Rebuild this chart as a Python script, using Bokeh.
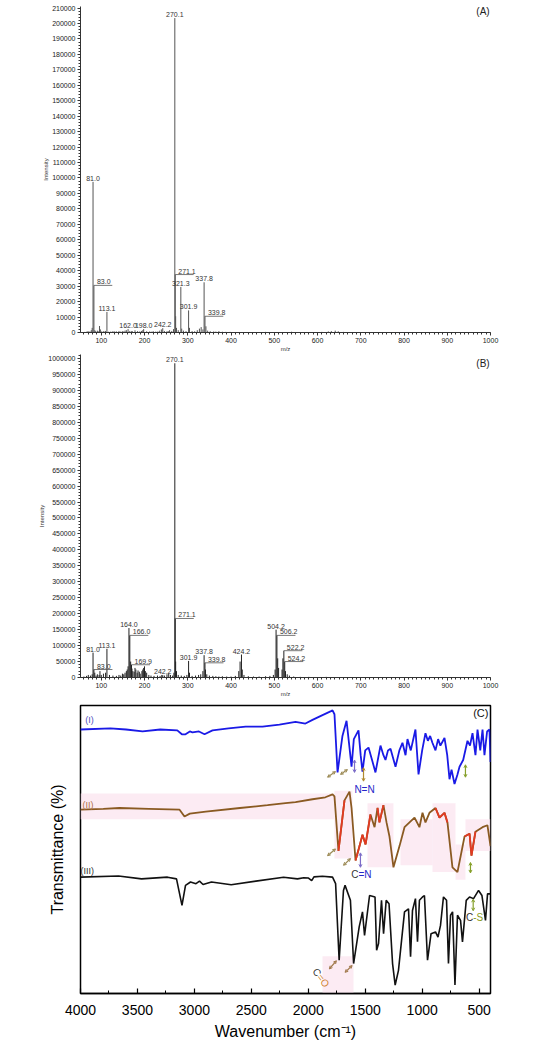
import math
from bokeh.plotting import figure
from bokeh.models import (ColumnDataSource, LabelSet, Label, SingleIntervalTicker,
                          BasicTickFormatter, Range1d, Arrow, OpenHead, FixedTicker)
from bokeh.layouts import column
from bokeh.core.properties import value
from bokeh.embed import file_html
from bokeh.resources import INLINE

FONT = "Liberation Sans"
W = 534

# ---------------- Panel A (mass spectrum) ----------------
a_pk_mz = [81.0, 83.0, 113.1, 162.0, 198.0, 242.2, 270.1, 271.1, 284.0, 301.9, 337.8, 339.8]
a_pk_int = [97500, 30500, 13300, 2200, 2200, 2800, 203500, 37500, 29500, 14300, 32500, 10500]
a_pk_text = ["81.0", "83.0", "113.1", "162.0", "198.0", "242.2", "270.1", "271.1", "321.3", "301.9", "337.8", "339.8"]
a_pk_leader = [False, True, False, False, False, False, False, True, False, False, False, True]
a_minor_mz = [62, 66, 69, 71, 74, 77, 79, 85, 87, 91, 93, 96, 98, 101, 105, 108, 110, 117, 122, 127,
              131, 135, 141, 145, 149, 152, 155, 158, 166, 170, 172, 178, 184, 189, 193, 196, 205, 212, 216, 220,
              226, 231, 235, 239, 246, 252, 255, 258, 263, 267, 272, 274, 278, 286, 290, 296, 304, 310, 316, 322,
              327, 331, 335, 342, 346, 352, 360, 365, 372, 380, 388, 398, 412, 430, 455, 480, 510, 540, 575, 610,
              625, 632, 641, 648, 660, 690, 730, 770, 810, 850, 890, 930, 970, 995]
a_minor_int = [400, 500, 800, 600, 700, 1500, 3000, 1500, 900, 1200, 800, 4200, 2000, 700, 800, 600, 1000, 500, 600, 900,
               700, 700, 1000, 600, 800, 700, 1200, 1500, 1000, 800, 800, 1400, 900, 700, 1000, 1500, 800, 700, 500, 900,
               600, 700, 1200, 2000, 1000, 800, 900, 1500, 1000, 2200, 10500, 3000, 1500, 2500, 1200, 900, 3000, 900, 800, 1500,
               2500, 3500, 2000, 4000, 1200, 800, 700, 600, 900, 500, 400, 400, 300, 300, 300, 400, 300, 500, 300, 400,
               700, 900, 1200, 800, 400, 300, 300, 300, 300, 300, 300, 300, 300, 300]

# ---------------- Panel B (mass spectrum) ----------------
b_pk_mz = [81.0, 83.0, 113.1, 164.0, 166.0, 169.9, 242.2, 270.1, 271.1, 301.9, 337.8, 339.8, 424.2, 504.2, 506.2, 522.2, 524.2]
b_pk_int = [78000, 25000, 90000, 155000, 132000, 40000, 7000, 985000, 185000, 52000, 70000, 46000, 72000, 150000, 132000, 84000, 50000]
b_pk_text = ["81.0", "83.0", "113.1", "164.0", "166.0", "169.9", "242.2", "270.1", "271.1", "301.9", "337.8", "339.8",
             "424.2", "504.2", "506.2", "522.2", "524.2"]
b_pk_leader = [False, True, False, False, True, True, False, False, True, False, False, True, False, False, True, True, True]
b_minor_mz = [60, 66, 70, 75, 79, 85, 88, 91, 95, 97, 100, 105, 110, 119, 127, 135, 141, 145, 149, 152,
              155, 158, 160, 162, 168, 171, 173, 176, 178, 180, 183, 185, 188, 190, 194, 196, 198, 200, 202, 205,
              210, 215, 222, 230, 236, 240, 246, 252, 256, 260, 265, 268, 272, 274, 278, 285, 292, 298, 304, 310,
              318, 325, 330, 335, 341, 344, 350, 358, 365, 372, 380, 390, 400, 410, 418, 421, 426, 430, 440, 452,
              465, 480, 490, 498, 502, 508, 510, 518, 520, 526, 530, 535, 545, 560, 580, 600, 620, 640, 660, 700,
              750, 800, 850, 900, 950, 990]
b_minor_int = [3000, 5000, 8000, 6000, 10000, 15000, 6000, 10000, 8000, 20000, 8000, 12000, 15000, 8000, 6000, 5000, 8000, 6000, 12000, 10000,
               15000, 20000, 25000, 35000, 50000, 28000, 20000, 18000, 30000, 25000, 15000, 22000, 18000, 12000, 20000, 25000, 30000, 35000, 20000, 15000,
               8000, 6000, 5000, 6000, 5000, 8000, 6000, 10000, 12000, 8000, 6000, 15000, 50000, 20000, 8000, 6000, 5000, 8000, 15000, 5000,
               6000, 8000, 10000, 20000, 25000, 10000, 6000, 5000, 4000, 3000, 4000, 3000, 3000, 5000, 20000, 50000, 25000, 8000, 4000, 3000,
               3000, 4000, 5000, 8000, 25000, 60000, 30000, 25000, 60000, 20000, 10000, 6000, 3000, 2000, 2000, 1500, 2000, 1500, 1500, 1500,
               1500, 1500, 1500, 1500, 1500, 1500]

# ---------------- Panel C (FT-IR) ----------------
c_wn_I = [4000, 3737, 3600, 3455, 3300, 3150, 3110, 3078, 3040, 3017, 2960, 2911, 2841, 2700, 2550, 2402, 2253, 2112, 2025, 1963,
          1875, 1800, 1787, 1770, 1743, 1700, 1664, 1640, 1620, 1600, 1559, 1540, 1524, 1500, 1471, 1440, 1410, 1366, 1340, 1322,
          1300, 1278, 1234, 1200, 1173, 1146, 1129, 1100, 1059, 1032, 1000, 971, 950, 930, 910, 883, 860, 840, 804, 780,
          760, 742, 716, 690, 672, 640, 602, 580, 558, 532, 514, 490, 470, 453, 430, 409, 400]
c_T_I = [91.5, 91.9, 91.5, 90.8, 91.5, 91.2, 89.8, 89.8, 90.8, 90.5, 90.8, 89.8, 91.2, 91.9, 92.5, 92.5, 93.2, 94.2, 93.6, 94.9,
         96.6, 98.0, 98.3, 96.9, 76.3, 89.2, 94.6, 85.8, 78.3, 88.1, 91.2, 82.4, 76.6, 84.1, 85.1, 80.7, 76.3, 85.8, 82.4, 80.7,
         84.1, 84.7, 78.3, 84.1, 86.8, 82.4, 88.1, 84.1, 91.5, 75.6, 84.1, 90.2, 87.5, 89.2, 86.8, 84.1, 88.1, 85.8, 88.5, 82.4,
         73.9, 77.3, 72.2, 75.6, 78.3, 80.7, 87.5, 85.8, 90.2, 82.4, 91.5, 84.1, 91.5, 82.4, 90.8, 91.5, 80.0]
c_wn_II = [4000, 3800, 3658, 3400, 3130, 3087, 3040, 2900, 2600, 2358, 2200, 2112, 1963, 1850, 1787, 1770, 1735, 1700, 1682, 1638,
           1620, 1585, 1550, 1524, 1497, 1454, 1418, 1392, 1375, 1340, 1313, 1287, 1252, 1199, 1155, 1111, 1067, 1024, 997, 971,
           936, 883, 848, 804, 778, 734, 690, 628, 584, 567, 532, 470, 427, 400]
c_T_II = [63.1, 63.4, 63.7, 63.4, 63.1, 60.7, 61.7, 62.4, 63.7, 64.7, 65.4, 65.8, 66.8, 67.5, 68.5, 67.8, 48.5, 60.3, 66.4, 69.5,
          63.7, 45.1, 50.2, 54.2, 50.8, 61.4, 56.9, 63.7, 58.6, 64.7, 58.6, 53.6, 42.7, 50.2, 56.9, 58.6, 60.3, 56.9, 62.0, 58.6,
          62.0, 63.7, 60.3, 62.0, 58.6, 42.7, 41.0, 53.6, 54.6, 46.8, 55.3, 56.9, 57.6, 50.2]
c_wn_III = [4000, 3666, 3464, 3236, 3157, 3109, 3078, 3034, 2986, 2955, 2924, 2850, 2677, 2460, 2217, 2095, 2040, 1998, 1970, 1950,
            1876, 1787, 1760, 1729, 1691, 1677, 1630, 1602, 1553, 1524, 1506, 1462, 1414, 1400, 1383, 1357, 1339, 1316, 1291, 1260,
            1237, 1208, 1155, 1120, 1102, 1085, 1059, 1041, 1024, 997, 980, 953, 922, 883, 861, 839, 813, 786, 769, 751,
            733, 712, 690, 663, 646, 613, 584, 549, 505, 475, 444, 426, 400]
c_T_III = [39.2, 39.6, 38.6, 39.2, 38.6, 29.2, 36.3, 37.5, 36.9, 37.8, 36.6, 37.5, 36.5, 37.8, 39.2, 38.6, 39.0, 38.9, 38.0, 39.3,
           39.5, 39.2, 36.9, 9.8, 34.5, 36.3, 31.0, 8.6, 21.6, 26.9, 18.6, 32.7, 32.2, 13.3, 15.7, 31.0, 19.2, 31.0, 29.8, 8.6,
           1.0, 6.2, 26.9, 28.0, 11.0, 27.4, 31.6, 16.3, 31.0, 32.2, 32.7, 9.8, 19.2, 19.8, 18.0, 22.1, 32.2, 31.0, 8.6, 25.7,
           26.9, 1.0, 25.7, 23.9, 16.3, 31.0, 32.2, 31.6, 34.5, 32.7, 23.9, 33.3, 33.3]
# red-highlighted parts of trace (II): (high wn, low wn)
c_red_ranges = [(1760, 1640), (1600, 1440), (1400, 1330), (900, 770), (650, 520)]
# pink highlight boxes: left wn, right wn, bottom, top
c_hl_left = [4000, 1770, 1480, 1190, 909, 707, 620, 1875]
c_hl_right = [1770, 1612, 1252, 909, 707, 620, 400, 1603]
c_hl_bottom = [59.7, 45.8, 42.7, 43.4, 41.0, 38.3, 48.5, -2.0]
c_hl_top = [68.8, 69.8, 65.4, 59.7, 65.4, 50.8, 59.7, 11.2]
# double-headed marker arrows
c_arr_x0 = [1831, 1717, 1594, 1515, 620, 1831, 1691, 1542, 576, 1815, 1677, 552]
c_arr_y0 = [74.6, 75.6, 80.7, 78.0, 79.0, 46.8, 43.4, 47.8, 44.4, 6.7, 5.5, 31.4]
c_arr_x1 = [1761, 1656, 1594, 1515, 620, 1761, 1629, 1542, 576, 1753, 1615, 552]
c_arr_y1 = [76.6, 77.3, 76.3, 73.2, 74.6, 49.2, 45.8, 42.7, 40.7, 9.6, 7.9, 27.3]
c_arr_col = ["#9c8a55", "#9c8a55", "#7c6cc8", "#b08a30", "#86a02a", "#9c8a55", "#9c8a55", "#7c6cc8", "#86a02a",
             "#a0784a", "#a0784a", "#86a02a"]

# ---------------- layout constants ----------------
A_H, A_L, A_R, A_T, A_B = 354, 36, 7, 6, 20
B_H, B_L, B_R, B_T, B_B = 346, 40, 7, 0, 23
C_H, C_L, C_R, C_T, C_B = 345, 80, 44, 5, 52
MZ0, MZ1 = 52, 1000
A_YEND = 211000
B_YEND = 1012500


def ms_panel(height, bl, br, bt, bb, yend, yint, minor_mz, minor_int, pk_mz, pk_int, pk_text, pk_leader, stem_color):
    p = figure(width=W, height=height, x_range=Range1d(MZ0, MZ1), y_range=Range1d(0, yend),
               output_backend="svg", toolbar_location=None,
               min_border_left=bl, min_border_right=br, min_border_top=bt, min_border_bottom=bb)
    p.grid.visible = False
    p.outline_line_color = None
    p.xaxis.ticker = SingleIntervalTicker(interval=100, num_minor_ticks=10)
    p.yaxis.ticker = SingleIntervalTicker(interval=yint, num_minor_ticks=5)
    p.yaxis.formatter = BasicTickFormatter(use_scientific=False)
    for ax in p.axis:
        ax.axis_line_color = "#333333"
        ax.major_tick_line_color = "#333333"
        ax.minor_tick_line_color = "#333333"
        ax.major_tick_out = 3
        ax.major_tick_in = 0
        ax.minor_tick_out = 2
        ax.minor_tick_in = 0
        ax.major_label_standoff = 2
        ax.major_label_text_font = FONT
        ax.major_label_text_font_size = "7px"
        ax.major_label_text_color = "#222222"
        ax.axis_label_text_font = FONT
        ax.axis_label_text_font_size = "6px"
        ax.axis_label_text_font_style = "normal"
        ax.axis_label_text_color = "#333333"
        ax.axis_label_standoff = 0
    p.xaxis.axis_label = "m/z"
    p.yaxis.axis_label = "Intensity"
    mz = list(minor_mz) + list(pk_mz)
    it = list(minor_int) + list(pk_int)
    p.segment(x0=mz, y0=[0] * len(mz), x1=mz, y1=it, line_color=stem_color, line_width=1)

    mzpp = (MZ1 - MZ0) / (W - bl - br)
    cx = [m for m, l in zip(pk_mz, pk_leader) if not l]
    cy = [v for v, l in zip(pk_int, pk_leader) if not l]
    ct = [t for t, l in zip(pk_text, pk_leader) if not l]
    lx = [m for m, l in zip(pk_mz, pk_leader) if l]
    ly = [v for v, l in zip(pk_int, pk_leader) if l]
    lt = [t for t, l in zip(pk_text, pk_leader) if l]
    p.add_layout(LabelSet(x="x", y="y", text="t", source=ColumnDataSource(dict(x=cx, y=cy, t=ct)),
                          text_align="center", text_baseline="bottom", y_offset=1,
                          text_font=value(FONT), text_font_size="7px", text_color="#333333"))
    p.add_layout(LabelSet(x="x", y="y", text="t", source=ColumnDataSource(dict(x=lx, y=ly, t=lt)),
                          text_align="left", text_baseline="bottom", x_offset=3, y_offset=1,
                          text_font=value(FONT), text_font_size="7px", text_color="#333333"))
    p.segment(x0=lx, y0=ly, x1=[m + 22 * mzpp for m in lx], y1=ly, line_color="#555555", line_width=0.8)
    return p, mzpp


# ---- A ----
pA, mzppA = ms_panel(A_H, A_L, A_R, A_T, A_B, A_YEND, 10000, a_minor_mz, a_minor_int,
                     a_pk_mz, a_pk_int, a_pk_text, a_pk_leader, "#555555")
ippA = A_YEND / (A_H - A_T - A_B)
pA.add_layout(Label(x=MZ1 - mzppA, y=A_YEND - 5 * ippA, text="(A)", text_align="right", text_baseline="middle",
                    text_font=FONT, text_font_size="10px", text_color="#222222"))

# ---- B ----
pB, mzppB = ms_panel(B_H, B_L, B_R, B_T, B_B, B_YEND, 50000, b_minor_mz, b_minor_int,
                     b_pk_mz, b_pk_int, b_pk_text, b_pk_leader, "#222222")
ippB = B_YEND / (B_H - B_T - B_B)
pB.add_layout(Label(x=MZ1 - mzppB, y=B_YEND - 9 * ippB, text="(B)", text_align="right", text_baseline="middle",
                    text_font=FONT, text_font_size="10px", text_color="#222222"))

# ---- C ----
pC = figure(width=W, height=C_H, x_range=Range1d(4000, 400), y_range=Range1d(-2, 100),
            output_backend="svg", toolbar_location=None,
            min_border_left=C_L, min_border_right=C_R, min_border_top=C_T, min_border_bottom=C_B)
pC.grid.visible = False
pC.outline_line_color = "black"
pC.outline_line_width = 1.5
pC.xaxis.ticker = SingleIntervalTicker(interval=500, num_minor_ticks=2)
pC.xaxis.axis_line_color = "black"
pC.xaxis.axis_line_width = 1.5
pC.xaxis.major_tick_in = 5
pC.xaxis.major_tick_out = 0
pC.xaxis.minor_tick_in = 3
pC.xaxis.minor_tick_out = 0
pC.xaxis.major_tick_line_width = 1.2
pC.xaxis.major_tick_line_color = "black"
pC.xaxis.minor_tick_line_color = "black"
pC.xaxis.major_label_text_font = FONT
pC.xaxis.major_label_text_font_size = "14px"
pC.xaxis.major_label_text_color = "black"
pC.xaxis.major_label_standoff = 11
pC.xaxis.axis_label = "Wavenumber (cm\u207b\u00b9)"
pC.xaxis.axis_label_text_font = FONT
pC.xaxis.axis_label_text_font_size = "16px"
pC.xaxis.axis_label_text_font_style = "normal"
pC.xaxis.axis_label_text_color = "black"
pC.xaxis.axis_label_standoff = 5
pC.yaxis.ticker = FixedTicker(ticks=[])
pC.yaxis.major_tick_line_color = None
pC.yaxis.minor_tick_line_color = None
pC.yaxis.major_tick_out = 0
pC.yaxis.major_label_standoff = 0
pC.yaxis.axis_line_color = None
pC.yaxis.axis_label = "Transmittance (%)"
pC.yaxis.axis_label_text_font = FONT
pC.yaxis.axis_label_text_font_size = "16px"
pC.yaxis.axis_label_text_font_style = "normal"
pC.yaxis.axis_label_text_color = "black"
pC.yaxis.axis_label_standoff = 15

pC.quad(left=c_hl_left, right=c_hl_right, bottom=c_hl_bottom, top=c_hl_top,
        fill_color="#fbe2ee", fill_alpha=0.7, line_color=None)
pC.line(c_wn_I, c_T_I, line_color="#1a1ae6", line_width=1.8)
pC.line(c_wn_II, c_T_II, line_color="#8a5a22", line_width=1.8)
for hi, lo in c_red_ranges:
    xs = [w for w in c_wn_II if lo <= w <= hi]
    ys = [t for w, t in zip(c_wn_II, c_T_II) if lo <= w <= hi]
    pC.line(xs, ys, line_color="#e23a22", line_width=1.8)
pC.line(c_wn_III, c_T_III, line_color="#111111", line_width=1.6)

for x0, y0, x1, y1, col in zip(c_arr_x0, c_arr_y0, c_arr_x1, c_arr_y1, c_arr_col):
    pC.add_layout(Arrow(start=OpenHead(size=3, line_color=col, line_width=1),
                        end=OpenHead(size=3, line_color=col, line_width=1),
                        x_start=x0, y_start=y0, x_end=x1, y_end=y1, line_color=col, line_width=1.2))


def clab(x, y, text, color, size, align="center", angle=0.0):
    pC.add_layout(Label(x=x, y=y, text=text, text_align=align, text_baseline="middle", angle=angle,
                        text_font=FONT, text_font_size=size, text_color=color))


clab(3921, 94.8, "(I)", "#5050c0", "9px")
clab(3935, 64.8, "(II)", "#b0704a", "9px")
clab(3941, 41.4, "(III)", "#333333", "9px")
clab(418, 97.2, "(C)", "#111111", "11px", align="right")
clab(1506, 70.3, "N=N", "#2626c8", "10px")
clab(1559, 40.0, "C", "#333333", "10px", align="right")
clab(1559, 40.0, "=N", "#2626c8", "10px", align="left")
clab(552, 24.9, "C", "#333333", "10px", align="right")
clab(552, 24.9, "-S", "#8a9a20", "10px", align="left")
clab(1905, 4.5, "C", "#333333", "10px", align="right", angle=-0.92)
clab(1905, 4.5, "=O", "#d0802a", "10px", align="left", angle=-0.92)

layout = column(pA, pB, pC)
open("out.html", "w").write(file_html(layout, INLINE))
